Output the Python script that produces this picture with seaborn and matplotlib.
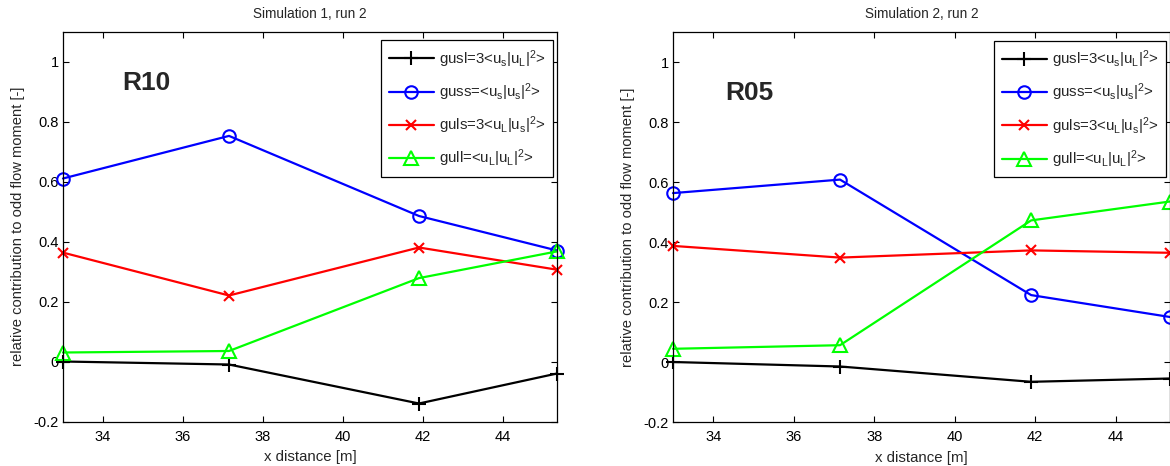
import matplotlib
matplotlib.use("Agg")
import matplotlib.pyplot as plt
import matplotlib.ticker as mticker
import seaborn as sns
import numpy as np

# ---- data ----
x_dist = [33.0, 37.15, 41.9, 45.35]

sim1_gusl = [0.0, -0.01, -0.14, -0.04]
sim1_guss = [0.61, 0.752, 0.485, 0.37]
sim1_guls = [0.363, 0.22, 0.38, 0.306]
sim1_gull = [0.03, 0.035, 0.278, 0.367]

sim2_gusl = [0.0, -0.015, -0.066, -0.055]
sim2_guss = [0.563, 0.608, 0.223, 0.15]
sim2_guls = [0.387, 0.348, 0.372, 0.364]
sim2_gull = [0.044, 0.056, 0.472, 0.535]

series_labels = [
    r"gusl=3<u$_\mathregular{s}$|u$_\mathregular{L}$|$^\mathregular{2}$>",
    r"guss=<u$_\mathregular{s}$|u$_\mathregular{s}$|$^\mathregular{2}$>",
    r"guls=3<u$_\mathregular{L}$|u$_\mathregular{s}$|$^\mathregular{2}$>",
    r"gull=<u$_\mathregular{L}$|u$_\mathregular{L}$|$^\mathregular{2}$>",
]
titles = ["Simulation 1, run 2", "Simulation 2, run 2"]
panel_tags = ["R10", "R05"]
xticks = [34, 36, 38, 40, 42, 44]
yticks = [-0.2, 0, 0.2, 0.4, 0.6, 0.8, 1.0]
xlabel = "x distance [m]"
ylabel = "relative contribution to odd flow moment [-]"

# ---- style ----
sns.set_theme(style="ticks")
plt.rcParams["font.family"] = ["Liberation Sans", "DejaVu Sans"]
plt.rcParams["mathtext.default"] = "regular"

colors = ["#000000", "#0000ff", "#ff0000", "#00ff00"]
markers = ["+", "o", "x", "^"]
msizes = [10, 9, 7, 10]

fig = plt.figure(figsize=(11.7, 4.66), dpi=100)
fig.patch.set_facecolor("white")
ax1 = fig.add_axes([63 / 1170, 44.5 / 466, 494 / 1170, 390 / 466])
ax2 = fig.add_axes([673 / 1170, 44 / 466, 497 / 1170, 390 / 466])

panels = [
    (ax1, [sim1_gusl, sim1_guss, sim1_guls, sim1_gull], (34.47, 0.905)),
    (ax2, [sim2_gusl, sim2_guss, sim2_guls, sim2_gull], (34.30, 0.873)),
]

for i, (ax, series, tagpos) in enumerate(panels):
    ax.set_facecolor("white")
    for vals, col, mk, ms, lab in zip(series, colors, markers, msizes, series_labels):
        sns.lineplot(
            x=x_dist, y=vals, ax=ax, color=col, marker=mk, markersize=ms,
            markerfacecolor="none", markeredgecolor=col, markeredgewidth=1.5,
            linewidth=1.6, label=lab, clip_on=False, sort=False,
        )
    ax.set_xlim(33.0, 45.35)
    ax.set_ylim(-0.2, 1.1)
    ax.set_xticks(xticks)
    ax.set_yticks(yticks)
    ax.yaxis.set_major_formatter(mticker.FuncFormatter(lambda v, p: f"{v:g}"))
    ax.tick_params(direction="in", length=4, width=0.8, top=True, right=True,
                   labelsize=10.5, colors="black")
    ax.tick_params(axis="x", pad=6)
    ax.tick_params(axis="y", pad=3)
    for sp in ax.spines.values():
        sp.set_visible(True)
        sp.set_color("black")
        sp.set_linewidth(0.9)
    ax.set_title(titles[i], fontsize=9.8, pad=10)
    ax.set_xlabel(xlabel, fontsize=10.8, labelpad=4.5)
    ax.set_ylabel(ylabel, fontsize=10.6, labelpad=6)
    ax.text(tagpos[0], tagpos[1], panel_tags[i], fontsize=19, fontweight="bold",
            ha="left", va="baseline")
    leg = ax.legend(loc="upper right", bbox_to_anchor=(0.992, 0.977),
                    borderaxespad=0, frameon=True, fancybox=False,
                    edgecolor="black", framealpha=1, fontsize=10.8,
                    handlelength=3.0, handletextpad=0.35, labelspacing=0.78,
                    borderpad=0.5)
    leg.get_frame().set_linewidth(0.9)

fig.savefig("out.png", dpi=100, facecolor="white")
